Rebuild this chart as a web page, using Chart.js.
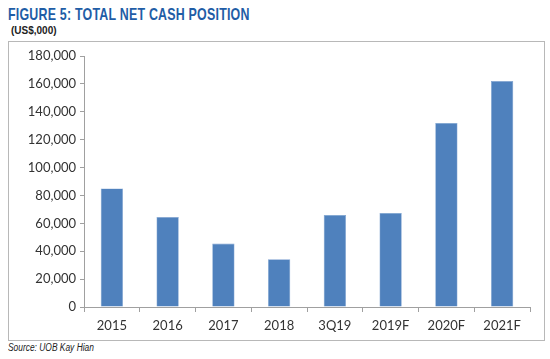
<!DOCTYPE html>
<html>
<head>
<meta charset="utf-8">
<script src="https://cdn.jsdelivr.net/npm/chart.js"></script>
<style>
  body { margin: 0; background: #fff; width: 550px; height: 359px; position: relative; overflow: hidden; }
  #titulo { position: absolute; left: 8px; top: 5px; font: bold 17px "Liberation Sans", Arial, sans-serif; color: #1f5da6; letter-spacing: 0.3px; transform: scaleX(0.73); transform-origin: left top; white-space: nowrap; }
  #unidad { position: absolute; left: 11px; top: 25px; font: bold 10px "Liberation Sans", Arial, sans-serif; color: #222; }
  #marco { position: absolute; left: 8px; top: 41px; width: 535px; height: 298px; border: 1px solid #b8b8b8; }
  #fuente { position: absolute; left: 8px; top: 342px; font: italic 10px "Liberation Sans", Arial, sans-serif; color: #222; transform: scaleX(0.84); transform-origin: left top; white-space: nowrap; }
</style>
</head>
<body>
<div id="titulo">FIGURE 5: TOTAL NET CASH POSITION</div>
<div id="unidad">(US$,000)</div>
<div id="marco"><canvas id="grafica" width="535" height="298"></canvas></div>
<div id="fuente">Source: UOB Kay Hian</div>
<script>
// Datos
var categorias = ['2015', '2016', '2017', '2018', '3Q19', '2019F', '2020F', '2021F'];
var caja = [85000, 64500, 45500, 34300, 66000, 67400, 132000, 162000];
var marcasY = [0, 20000, 40000, 60000, 80000, 100000, 120000, 140000, 160000, 180000];

var ctx = document.getElementById('grafica').getContext('2d');
var grafica = new Chart(ctx, {
    type: 'bar',
    data: {
        labels: categorias,
        datasets: [{
            data: caja,
            backgroundColor: '#4f81bd',
            borderColor: '#7fa3d1',
            borderWidth: 0.6,
            barPercentage: 0.4,
            categoryPercentage: 1
        }]
    },
    options: {
        responsive: false,
        animation: false,
        layout: { padding: { top: 14, right: 14, left: 0, bottom: 0 } },
        plugins: { legend: { display: false }, tooltip: { enabled: false } },
        scales: {
            x: {
                grid: { display: true, drawOnChartArea: false, drawTicks: true, tickLength: 5, color: '#a0a0a0' },
                border: { display: true, color: '#a0a0a0' },
                ticks: { color: '#333', padding: 6, font: { family: 'Lato', size: 13 } },
                afterFit: function (escala) { escala.height = 33; }
            },
            y: {
                min: 0,
                max: 180000,
                afterBuildTicks: function (escala) {
                    escala.ticks = marcasY.map(function (v) { return { value: v }; });
                },
                grid: { display: true, drawOnChartArea: false, drawTicks: true, tickLength: 4, color: '#a0a0a0' },
                border: { display: true, color: '#a0a0a0' },
                ticks: {
                    color: '#333',
                    padding: 4,
                    font: { family: 'Lato', size: 13 },
                    callback: function (v) { return v.toLocaleString('en-US'); }
                },
                afterFit: function (escala) { escala.width = 75; }
            }
        }
    }
});
</script>
</body>
</html>
